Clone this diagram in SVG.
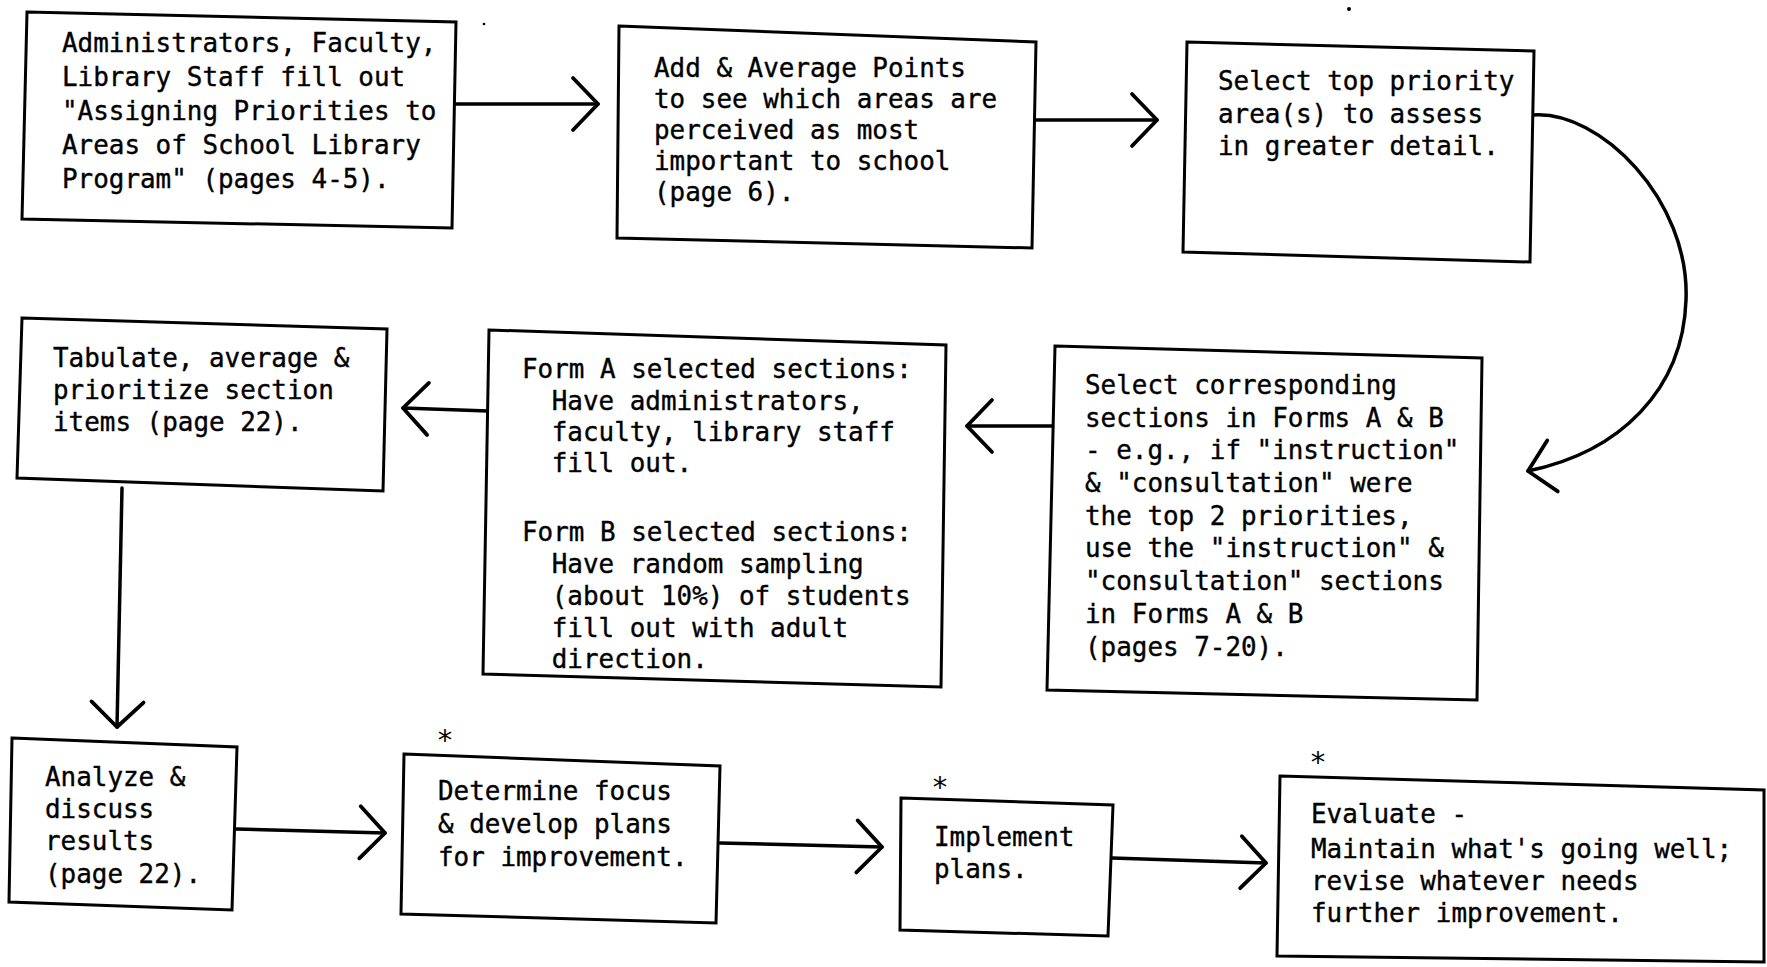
<svg xmlns="http://www.w3.org/2000/svg" width="1767" height="967" viewBox="0 0 1767 967">
<defs>
<style>
.box{fill:#fff;stroke:#000;stroke-width:3;stroke-linejoin:miter}
.t{font-family:"DejaVu Sans Mono","Liberation Mono",monospace;font-size:27px;fill:#000;stroke:#000;stroke-width:0.4}
.c{fill:none;stroke:#000;stroke-width:3.5;stroke-linecap:round}
.star{font-family:"DejaVu Sans Mono","Liberation Mono",monospace;font-size:29px;fill:#000;text-anchor:middle}
</style>
<marker id="chev" markerUnits="userSpaceOnUse" markerWidth="60" markerHeight="60" viewBox="-30 -30 60 60" refX="0" refY="0" orient="auto" overflow="visible">
<path d="M-25,-26 L0,0 L-25,26" fill="none" stroke="#000" stroke-width="3.8" stroke-linecap="round" stroke-linejoin="round"/>
</marker>
</defs>
<rect width="1767" height="967" fill="#fff"/>
<circle cx="484" cy="24" r="1.3" fill="#000"/>
<circle cx="1349" cy="9" r="2" fill="#000"/>

<g id="connectors">
<path class="c" d="M456,104 L598,104" marker-end="url(#chev)"/>
<path class="c" d="M1034,120 L1157,120" marker-end="url(#chev)"/>
<path class="c" d="M1533,115 C1600,110 1690,200 1686,300 C1683,390 1620,452 1528,471" marker-end="url(#chev)"/>
<path class="c" d="M1054,426 L967,426" marker-end="url(#chev)"/>
<path class="c" d="M488,411 L403,408" marker-end="url(#chev)"/>
<path class="c" d="M122,488 L117,727" marker-end="url(#chev)"/>
<path class="c" d="M236,829 L385,833" marker-end="url(#chev)"/>
<path class="c" d="M720,843 L882,847" marker-end="url(#chev)"/>
<path class="c" d="M1112,858 L1266,863" marker-end="url(#chev)"/>
</g>

<g id="n1">
<polygon class="box" points="27,12 456,22 452,228 22,219"/>
<text class="t" transform="translate(62 0) scale(0.96 1)">
<tspan x="0" y="52">Administrators, Faculty,</tspan>
<tspan x="0" y="86">Library Staff fill out</tspan>
<tspan x="0" y="120">"Assigning Priorities to</tspan>
<tspan x="0" y="154">Areas of School Library</tspan>
<tspan x="0" y="188">Program" (pages 4-5).</tspan>
</text>
</g>

<g id="n2">
<polygon class="box" points="619,26 1036,42 1032,248 617,238"/>
<text class="t" transform="translate(654 0) scale(0.96 1)">
<tspan x="0" y="77">Add &amp; Average Points</tspan>
<tspan x="0" y="108">to see which areas are</tspan>
<tspan x="0" y="139">perceived as most</tspan>
<tspan x="0" y="170">important to school</tspan>
<tspan x="0" y="201">(page 6).</tspan>
</text>
</g>

<g id="n3">
<polygon class="box" points="1187,42 1534,51 1530,262 1183,252"/>
<text class="t" transform="translate(1218 0) scale(0.96 1)">
<tspan x="0" y="90">Select top priority</tspan>
<tspan x="0" y="123">area(s) to assess</tspan>
<tspan x="0" y="155">in greater detail.</tspan>
</text>
</g>

<g id="n6">
<polygon class="box" points="1055,346 1482,358 1477,700 1047,690"/>
<text class="t" transform="translate(1085 0) scale(0.96 1)">
<tspan x="0" y="394">Select corresponding</tspan>
<tspan x="0" y="427">sections in Forms A &amp; B</tspan>
<tspan x="0" y="459">- e.g., if "instruction"</tspan>
<tspan x="0" y="492">&amp; "consultation" were</tspan>
<tspan x="0" y="525">the top 2 priorities,</tspan>
<tspan x="0" y="557">use the "instruction" &amp;</tspan>
<tspan x="0" y="590">"consultation" sections</tspan>
<tspan x="0" y="623">in Forms A &amp; B</tspan>
<tspan x="0" y="656">(pages 7-20).</tspan>
</text>
</g>

<g id="n5">
<polygon class="box" points="489,330 946,345 941,687 483,674"/>
<text class="t" transform="translate(522 0) scale(0.96 1)">
<tspan x="0" y="378">Form A selected sections:</tspan>
<tspan x="31" y="410">Have administrators,</tspan>
<tspan x="31" y="441">faculty, library staff</tspan>
<tspan x="31" y="472">fill out.</tspan>
<tspan x="0" y="541">Form B selected sections:</tspan>
<tspan x="31" y="573">Have random sampling</tspan>
<tspan x="31" y="605">(about 10%) of students</tspan>
<tspan x="31" y="637">fill out with adult</tspan>
<tspan x="31" y="668">direction.</tspan>
</text>
</g>

<g id="n4">
<polygon class="box" points="22,318 387,329 383,491 17,478"/>
<text class="t" transform="translate(53 0) scale(0.96 1)">
<tspan x="0" y="367">Tabulate, average &amp;</tspan>
<tspan x="0" y="399">prioritize section</tspan>
<tspan x="0" y="431">items (page 22).</tspan>
</text>
</g>

<g id="n7">
<polygon class="box" points="12,738 237,747 232,910 9,902"/>
<text class="t" transform="translate(45 0) scale(0.96 1)">
<tspan x="0" y="786">Analyze &amp;</tspan>
<tspan x="0" y="818">discuss</tspan>
<tspan x="0" y="850">results</tspan>
<tspan x="0" y="883">(page 22).</tspan>
</text>
</g>

<g id="n8">
<text class="star" x="445" y="750">*</text>
<polygon class="box" points="404,754 720,766 716,923 401,914"/>
<text class="t" transform="translate(438 0) scale(0.96 1)">
<tspan x="0" y="800">Determine focus</tspan>
<tspan x="0" y="833">&amp; develop plans</tspan>
<tspan x="0" y="866">for improvement.</tspan>
</text>
</g>

<g id="n9">
<text class="star" x="940" y="797">*</text>
<polygon class="box" points="901,798 1113,805 1108,936 900,930"/>
<text class="t" transform="translate(934 0) scale(0.96 1)">
<tspan x="0" y="846">Implement</tspan>
<tspan x="0" y="878">plans.</tspan>
</text>
</g>

<g id="n10">
<text class="star" x="1318" y="772">*</text>
<polygon class="box" points="1280,776 1764,790 1764,962 1277,956"/>
<text class="t" transform="translate(1311 0) scale(0.96 1)">
<tspan x="0" y="823">Evaluate -</tspan>
<tspan x="0" y="858">Maintain what's going well;</tspan>
<tspan x="0" y="890">revise whatever needs</tspan>
<tspan x="0" y="922">further improvement.</tspan>
</text>
</g>
</svg>
